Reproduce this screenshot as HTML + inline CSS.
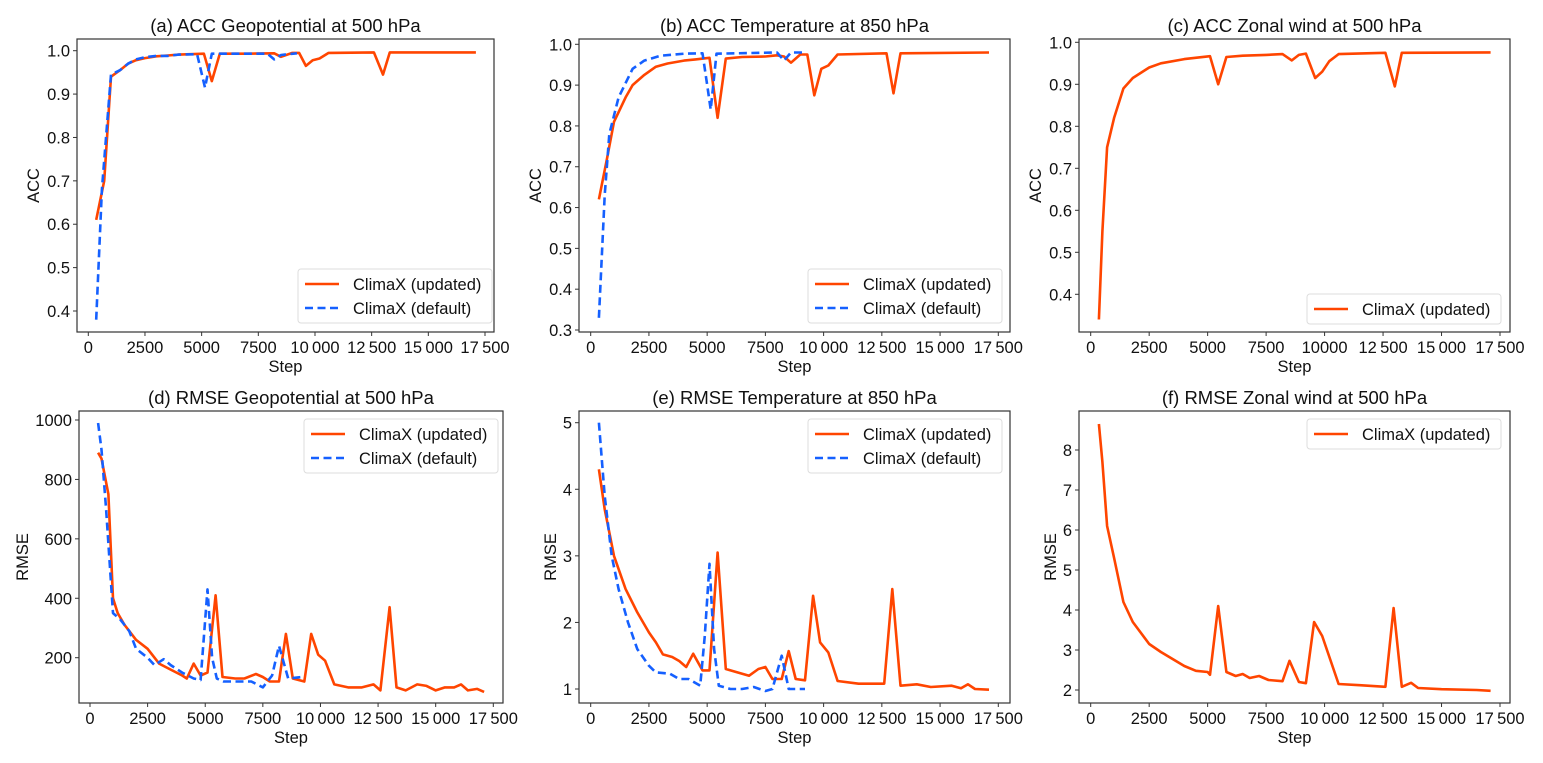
<!DOCTYPE html>
<html><head><meta charset="utf-8">
<style>
html,body{margin:0;padding:0;background:#fff;}
svg{display:block;font-family:"Liberation Sans",Arial,sans-serif;}
</style></head>
<body>
<svg id="fig" width="1543" height="763" viewBox="0 0 1543 763" xmlns="http://www.w3.org/2000/svg"></svg>
<script>
// ---- data ----
const xTicks = [0,2500,5000,7500,10000,12500,15000,17500];
const xTickLabels = ["0","2500","5000","7500","10\u2009000","12\u2009500","15\u2009000","17\u2009500"];
const xTickLabelsC = ["0","2500","5000","7500","10000","12\u2009500","15\u2009000","17\u2009500"];

const aUpdSteps = [350,700,1000,1400,1750,2100,2500,3000,3500,4000,4500,5100,5450,5800,7000,8200,8500,9000,9300,9600,9900,10200,10600,12600,13000,13300,17100];
const aUpdVals  = [0.61,0.70,0.94,0.955,0.97,0.978,0.983,0.987,0.989,0.991,0.992,0.993,0.93,0.993,0.993,0.994,0.986,0.995,0.995,0.965,0.978,0.982,0.995,0.996,0.945,0.996,0.996];
const aDefSteps = [350,600,1000,1400,1750,2100,2500,3000,3500,4000,4800,5150,5450,7000,7900,8200,8500,9200];
const aDefVals  = [0.38,0.68,0.945,0.955,0.97,0.98,0.985,0.988,0.988,0.991,0.992,0.915,0.993,0.993,0.993,0.98,0.99,0.994];

const bUpdSteps = [350,700,1000,1500,1800,2300,2800,3300,4000,4500,5100,5450,5800,6500,7500,8000,8300,8600,9000,9300,9600,9900,10200,10600,12700,13000,13300,17100];
const bUpdVals  = [0.62,0.72,0.81,0.87,0.90,0.925,0.945,0.953,0.96,0.963,0.967,0.82,0.965,0.969,0.97,0.973,0.97,0.955,0.975,0.975,0.875,0.94,0.948,0.975,0.978,0.88,0.978,0.98];
const bDefSteps = [350,600,800,1200,1800,2300,3000,4000,4800,5000,5150,5400,8000,8300,8600,9200];
const bDefVals  = [0.33,0.63,0.78,0.87,0.94,0.96,0.972,0.977,0.978,0.90,0.84,0.977,0.98,0.96,0.98,0.98];

const cUpdSteps = [350,500,700,1000,1400,1800,2500,3000,4000,5100,5450,5800,6500,7500,8200,8600,8900,9200,9600,9900,10200,10600,12600,13000,13300,17100];
const cUpdVals  = [0.34,0.55,0.75,0.82,0.89,0.915,0.94,0.95,0.96,0.967,0.90,0.965,0.968,0.97,0.972,0.957,0.97,0.973,0.915,0.93,0.955,0.972,0.975,0.895,0.975,0.976];

const dUpdSteps = [350,500,800,1000,1200,1500,2000,2500,3000,3500,4000,4200,4500,4800,5100,5450,5750,6300,6700,7200,7500,7800,8200,8500,8800,9300,9600,9900,10200,10600,11200,11800,12300,12600,13000,13300,13700,14200,14600,15000,15400,15800,16100,16400,16800,17100];
const dUpdVals  = [890,870,750,400,350,310,260,230,180,160,140,130,180,140,150,410,135,130,130,145,135,120,120,280,130,120,280,210,190,110,100,100,110,90,370,100,90,110,105,90,100,100,110,90,95,85];
const dDefSteps = [350,500,700,1000,1300,1700,2000,2500,2800,3200,3500,4000,4500,4800,5100,5300,5500,5800,6500,7000,7500,7900,8200,8600,9200];
const dDefVals  = [990,900,700,350,330,290,230,200,175,195,175,150,130,125,430,200,130,120,120,120,100,140,240,130,135];

const eUpdSteps = [350,600,1000,1500,2000,2500,2800,3100,3500,3800,4100,4400,4800,5100,5450,5800,6300,6800,7200,7500,7800,8200,8500,8800,9200,9550,9850,10200,10600,11500,12200,12600,12950,13300,14000,14600,15500,15900,16200,16500,17100];
const eUpdVals  = [4.3,3.7,3.0,2.5,2.15,1.85,1.7,1.52,1.48,1.42,1.33,1.53,1.28,1.28,3.05,1.3,1.25,1.2,1.3,1.33,1.15,1.15,1.57,1.15,1.13,2.4,1.7,1.55,1.12,1.08,1.08,1.08,2.5,1.05,1.07,1.03,1.05,1.01,1.07,1.0,0.99];
const eDefSteps = [350,600,900,1200,1600,2000,2500,2800,3400,3800,4200,4700,4900,5100,5300,5500,6000,6500,7000,7500,7800,8200,8500,9200];
const eDefVals  = [5.0,3.9,3.0,2.5,2.0,1.6,1.35,1.25,1.23,1.15,1.15,1.05,1.8,2.88,1.6,1.05,1.0,1.0,1.03,0.97,1.0,1.5,1.0,1.0];

const fUpdSteps = [350,500,700,1000,1400,1800,2500,3000,4000,4500,5000,5100,5450,5800,6200,6500,6800,7200,7600,8200,8500,8900,9200,9550,9900,10600,11500,12600,12950,13300,13700,14000,15000,16500,17100];
const fUpdVals  = [8.65,7.7,6.1,5.3,4.2,3.7,3.15,2.95,2.6,2.48,2.45,2.38,4.1,2.45,2.35,2.4,2.3,2.35,2.25,2.22,2.73,2.2,2.17,3.7,3.35,2.15,2.12,2.08,4.05,2.08,2.18,2.05,2.02,2.0,1.98];

const accTicksA = [0.4,0.5,0.6,0.7,0.8,0.9,1.0];
const accTicksB = [0.3,0.4,0.5,0.6,0.7,0.8,0.9,1.0];
const rmseTicksD = [200,400,600,800,1000];
const rmseTicksE = [1,2,3,4,5];
const rmseTicksF = [2,3,4,5,6,7,8];

const ORANGE = "#ff4500", BLUE = "#1560ff";
const svg = document.getElementById('fig');
const NS = "http://www.w3.org/2000/svg";
function mk(tag, attrs, parent){
  const e = document.createElementNS(NS, tag);
  for (const k in attrs) e.setAttribute(k, attrs[k]);
  (parent||svg).appendChild(e);
  return e;
}

function panel(p){
  const g = mk('g', {});
  
  
  const xs = v => p.x0 + (v - 0) * (p.x1 - p.x0) / 17500;
  const ys = v => p.yA + (v - p.vA) * (p.yB - p.yA) / (p.vB - p.vA);
  const t = mk('text', {x:(p.L+p.R)/2, y:p.T-7, 'text-anchor':'middle', 'font-size':'18.5', fill:'#111'}, g);
  t.textContent = p.title;
  
  
  p.series.forEach(s => {
    const pts = s.steps.map((st,i)=> xs(st).toFixed(1)+','+ys(s.vals[i]).toFixed(1)).join(' ');
    const pl = mk('polyline', {points:pts, fill:'none', stroke:s.color, 'stroke-width':'2.6', 'stroke-linejoin':'round', 'stroke-dasharray': s.dash ? '8,4.5' : 'none'}, g);
    
    
  });
  const fr = mk('rect', {x:p.L, y:p.T, width:p.R-p.L, height:p.B-p.T, fill:'none', stroke:'#333', 'stroke-width':'1.2'}, g);
  
  
  xTicks.forEach((v,i)=>{
    const x = xs(v);
    mk('line', {x1:x, x2:x, y1:p.B, y2:p.B+4, stroke:'#333', 'stroke-width':'1'}, g);
    const tl = mk('text', {x:x, y:p.B+21, 'text-anchor':'middle', 'font-size':'16.5', fill:'#111'}, g);
    tl.textContent = p.xLabels[i];
    
    
  });
  const xl = mk('text', {x:(p.L+p.R)/2, y:p.B+40, 'text-anchor':'middle', 'font-size':'16.5', fill:'#111'}, g);
  xl.textContent = 'Step';
  
  
  p.yTicks.forEach(v=>{
    const y = ys(v);
    mk('line', {x1:p.L-4, x2:p.L, y1:y, y2:y, stroke:'#333', 'stroke-width':'1'}, g);
    const tl = mk('text', {x:p.L-7, y:y+6, 'text-anchor':'end', 'font-size':'16.5', fill:'#111'}, g);
    tl.textContent = p.yFmt(v);
    
    
  });
  const yl = mk('text', {x:p.ylx, y:(p.T+p.B)/2, 'text-anchor':'middle', 'font-size':'16.5', fill:'#111', transform:`rotate(-90 ${p.ylx} ${(p.T+p.B)/2})`}, g);
  yl.textContent = p.ylabel;
  
  
  const lg = mk('g', {}, g);
  
  
  const n = p.series.length;
  mk('rect', {x:p.lgx, y:p.lgy, width:194, height:n===2?54:30, rx:3, fill:'#fff', stroke:'#ddd', 'stroke-width':'1'}, lg);
  p.series.forEach((s,i)=>{
    const y = p.lgy + 15 + i*24;
    mk('line', {x1:p.lgx+7, x2:p.lgx+41, y1:y, y2:y, stroke:s.color, 'stroke-width':'2.6', 'stroke-dasharray': s.dash ? '8,4.5' : 'none'}, lg);
    const lt = mk('text', {x:p.lgx+55, y:y+6, 'font-size':'16.5', fill:'#111'}, lg);
    lt.textContent = s.label;
    
    
  });
}

const accFmt = v => v.toFixed(1);
const intFmt = v => String(v);
const UPD = "ClimaX (updated)", DEF = "ClimaX (default)";

panel({name:'panel-a', title:'(a) ACC Geopotential at 500 hPa', L:77, R:494, T:39, B:332, x0:88.3, x1:485,
  vA:1.0, yA:50.7, vB:0.4, yB:311, yTicks:accTicksA, yFmt:accFmt, ylabel:'ACC', ylx:39, xLabels:xTickLabels,
  lgx:298, lgy:269,
  series:[{steps:aUpdSteps, vals:aUpdVals, color:ORANGE, label:UPD},{steps:aDefSteps, vals:aDefVals, color:BLUE, dash:true, label:DEF}]});
panel({name:'panel-b', title:'(b) ACC Temperature at 850 hPa', L:579, R:1010, T:39, B:332, x0:590.7, x1:998.3,
  vA:1.0, yA:44.3, vB:0.3, yB:330, yTicks:accTicksB, yFmt:accFmt, ylabel:'ACC', ylx:541, xLabels:xTickLabels,
  lgx:808, lgy:269,
  series:[{steps:bUpdSteps, vals:bUpdVals, color:ORANGE, label:UPD},{steps:bDefSteps, vals:bDefVals, color:BLUE, dash:true, label:DEF}]});
panel({name:'panel-c', title:'(c) ACC Zonal wind at 500 hPa', L:1079, R:1510, T:39, B:332, x0:1090.7, x1:1500,
  vA:1.0, yA:42.3, vB:0.4, yB:294.3, yTicks:accTicksA, yFmt:accFmt, ylabel:'ACC', ylx:1041, xLabels:xTickLabelsC,
  lgx:1307, lgy:294,
  series:[{steps:cUpdSteps, vals:cUpdVals, color:ORANGE, label:UPD}]});
panel({name:'panel-d', title:'(d) RMSE Geopotential at 500 hPa', L:79, R:503, T:411, B:703, x0:90, x1:493.3,
  vA:1000, yA:420, vB:200, yB:657.7, yTicks:rmseTicksD, yFmt:intFmt, ylabel:'RMSE', ylx:28, xLabels:xTickLabels,
  lgx:304, lgy:419,
  series:[{steps:dUpdSteps, vals:dUpdVals, color:ORANGE, label:UPD},{steps:dDefSteps, vals:dDefVals, color:BLUE, dash:true, label:DEF}]});
panel({name:'panel-e', title:'(e) RMSE Temperature at 850 hPa', L:579, R:1010, T:411, B:703, x0:590.7, x1:998.3,
  vA:5, yA:422.7, vB:1, yB:689, yTicks:rmseTicksE, yFmt:intFmt, ylabel:'RMSE', ylx:556, xLabels:xTickLabels,
  lgx:808, lgy:419,
  series:[{steps:eUpdSteps, vals:eUpdVals, color:ORANGE, label:UPD},{steps:eDefSteps, vals:eDefVals, color:BLUE, dash:true, label:DEF}]});
panel({name:'panel-f', title:'(f) RMSE Zonal wind at 500 hPa', L:1079, R:1510, T:411, B:703, x0:1090.7, x1:1500,
  vA:8, yA:450, vB:2, yB:690, yTicks:rmseTicksF, yFmt:intFmt, ylabel:'RMSE', ylx:1056, xLabels:xTickLabels,
  lgx:1307, lgy:419,
  series:[{steps:fUpdSteps, vals:fUpdVals, color:ORANGE, label:UPD}]});
</script>
</body></html>
